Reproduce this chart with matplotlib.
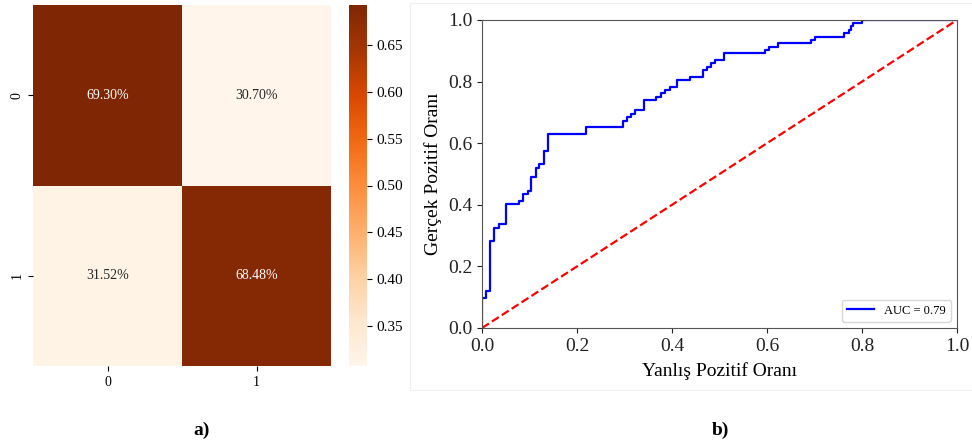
import numpy as np
import matplotlib
matplotlib.use("Agg")
from matplotlib import pyplot as plt
from matplotlib.patches import Rectangle
import seaborn as sns

plt.rcParams['font.family'] = 'serif'
plt.rcParams['font.serif'] = ['Liberation Serif', 'DejaVu Serif']

# confusion matrix (row-normalised)
cm_labels = ['0', '1']
cm_values = np.array([[0.6930, 0.3070],
                      [0.3152, 0.6848]])

# ROC curve corners (fpr where tpr rises, tpr after rise)
fpr = [0.0, 0.0, 0.0084, 0.0175, 0.026, 0.035, 0.051, 0.077, 0.086, 0.097,
       0.104, 0.113, 0.121, 0.130, 0.139, 0.219, 0.297, 0.305, 0.314, 0.323,
       0.341, 0.366, 0.376, 0.385, 0.395, 0.411, 0.438, 0.465, 0.473, 0.482,
       0.491, 0.509, 0.596, 0.605, 0.623, 0.692, 0.701, 0.763, 0.772, 0.776,
       0.781, 0.801, 1.0]
tpr = [0.0, 0.098, 0.119, 0.283, 0.325, 0.337, 0.402, 0.413, 0.434, 0.445,
       0.489, 0.521, 0.532, 0.575, 0.629, 0.651, 0.673, 0.684, 0.694, 0.707,
       0.740, 0.751, 0.762, 0.772, 0.783, 0.805, 0.816, 0.837, 0.848, 0.859,
       0.870, 0.892, 0.902, 0.913, 0.924, 0.935, 0.946, 0.957, 0.967, 0.981,
       0.989, 1.0, 1.0]
auc_text = 'AUC = 0.79'

W, H = 972, 443
fig = plt.figure(figsize=(W / 100, H / 100), dpi=100)

def box(x0, y0, x1, y1):
    return [x0 / W, 1 - y1 / H, (x1 - x0) / W, (y1 - y0) / H]

# faint frame of the right panel
fig.patches.append(Rectangle((410 / W, 1 - 390 / H), 600 / W, 387 / H,
                             transform=fig.transFigure, fill=False,
                             edgecolor='#f0f0f0', lw=0.8))

# a) heatmap
ax1 = fig.add_axes(box(33, 5, 331, 366))
cax = fig.add_axes(box(349, 5, 367, 366))
sns.heatmap(cm_values, ax=ax1, cbar_ax=cax, cmap='Oranges', annot=True,
            fmt='.2%', annot_kws={'fontsize': 10},
            xticklabels=cm_labels, yticklabels=cm_labels)
ax1.tick_params(labelsize=10)
ax1.set_yticklabels(cm_labels, rotation=90, va='center')
cax.tick_params(labelsize=11)
fig.text(202 / W, 1 - 430 / H, 'a)', ha='center', va='center',
         fontsize=14, fontweight='bold')

# b) ROC
ax2 = fig.add_axes(box(482, 20, 957, 328))
ax2.plot(fpr, tpr, color='blue', lw=1.6, drawstyle='steps-post', label=auc_text)
ax2.plot([0, 1], [0, 1], color='red', lw=1.6, ls='--')
ax2.set_xlim(0, 1)
ax2.set_ylim(0, 1)
ax2.set_xticks(np.arange(0, 1.01, 0.2))
ax2.set_yticks(np.arange(0, 1.01, 0.2))
ax2.tick_params(labelsize=14, colors='#222222')
for s in ax2.spines.values():
    s.set_color('#555555')
ax2.set_xlabel('Yanlış Pozitif Oranı', fontsize=14, labelpad=5)
ax2.set_ylabel('Gerçek Pozitif Oranı', fontsize=14, labelpad=4)
ax2.legend(loc='lower right', fontsize=9, handlelength=2.2)
fig.text(720 / W, 1 - 430 / H, 'b)', ha='center', va='center',
         fontsize=14, fontweight='bold')

fig.savefig('out.png', dpi=100)
